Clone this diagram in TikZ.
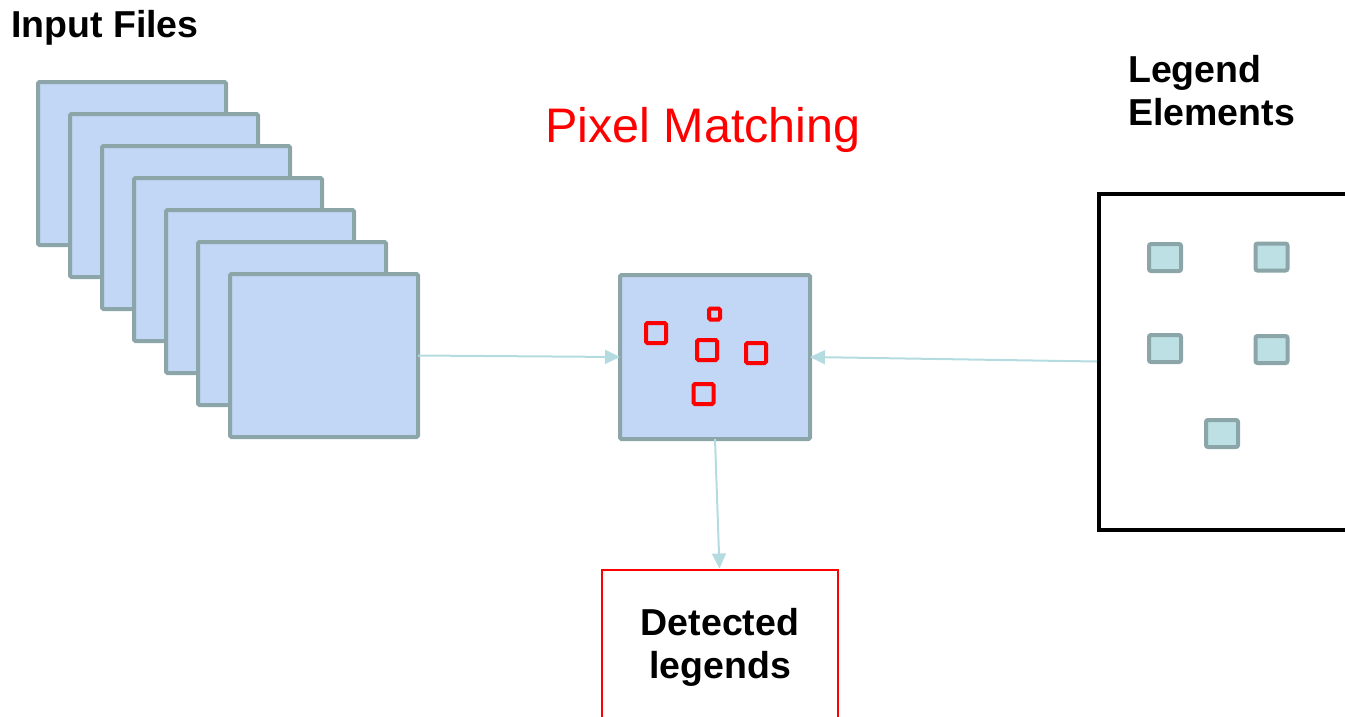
\documentclass[tikz,border=0pt]{standalone}
\usepackage{fontspec}
\setmainfont{Liberation Sans}
\usetikzlibrary{arrows.meta}
\definecolor{pagefill}{HTML}{C2D6F5}
\definecolor{pagestroke}{HTML}{8BA5A8}
\definecolor{legfill}{HTML}{BCE0E3}
\definecolor{arrowc}{HTML}{B4DCE0}
\definecolor{redc}{HTML}{FF0000}
\tikzset{
  pagebox/.style={draw=pagestroke, fill=pagefill, line width=4pt, rounded corners=1.5pt, minimum width=188pt, minimum height=163pt, inner sep=0pt, outer sep=0pt},
  hit/.style={draw=redc, line width=4pt, rounded corners=1.5pt, minimum width=20pt, minimum height=20pt, inner sep=0pt},
  smallhit/.style={hit, minimum width=11pt, minimum height=11pt},
  legitem/.style={draw=pagestroke, fill=legfill, line width=4pt, rounded corners=2pt, minimum width=32pt, minimum height=27pt, inner sep=0pt},
  conn/.style={draw=arrowc, line width=2pt, -{Triangle[length=15pt,width=14pt]}},
  title/.style={font=\fontsize{37.5}{43}\selectfont\bfseries, inner sep=0pt}
}
\begin{document}
\begin{tikzpicture}[x=1pt,y=-1pt]
\useasboundingbox (0,0) rectangle (1345,716);
% input files stack
\foreach \i in {0,...,6}{
  \node[pagebox] (f\i) at ({132+32*\i},{163.5+32*\i}) {};
}
\node[title, anchor=base west] (inlabel) at (11,37) {Input Files};
% pixel matching
\node[font=\fontsize{48.5}{56}\selectfont, text=redc, inner sep=0pt, anchor=base] (pmlabel) at (703,142) {Pixel Matching};
\node[pagebox, minimum width=190pt, minimum height=164pt] (mid) at (715,357) {};
\node[hit] (h1) at (656,333) {};
\node[smallhit] (h2) at (714.5,314) {};
\node[hit] (h3) at (707,350) {};
\node[hit] (h4) at (756,353) {};
\node[hit] (h5) at (703.5,394) {};
% legend elements
\node[title, anchor=north west, align=left] (leglabel) at (1128,55.5) {Legend\\Elements};
\node[draw=black, line width=4pt, minimum width=280pt, minimum height=336pt, inner sep=0pt, anchor=north west] (leg) at (1097,191.5) {};
\node[legitem] (l1) at (1165,257.5) {};
\node[legitem] (l2) at (1271.5,257) {};
\node[legitem] (l3) at (1165,348.5) {};
\node[legitem] (l4) at (1271.5,349.5) {};
\node[legitem] (l5) at (1222,433.5) {};
% detected legends
\node[draw=red, line width=2pt, minimum width=236pt, minimum height=200pt, inner sep=0pt, anchor=north] (det) at (719.5,568.5) {};
\node[title, align=center] (dettxt) at (720,647.5) {Detected\\legends};
% connectors
\draw[conn] (f6.east) -- (mid.west);
\draw[conn] (leg.west) -- (mid.east);
\draw[conn] (mid.south) -- (det.north);
\end{tikzpicture}
\end{document}
